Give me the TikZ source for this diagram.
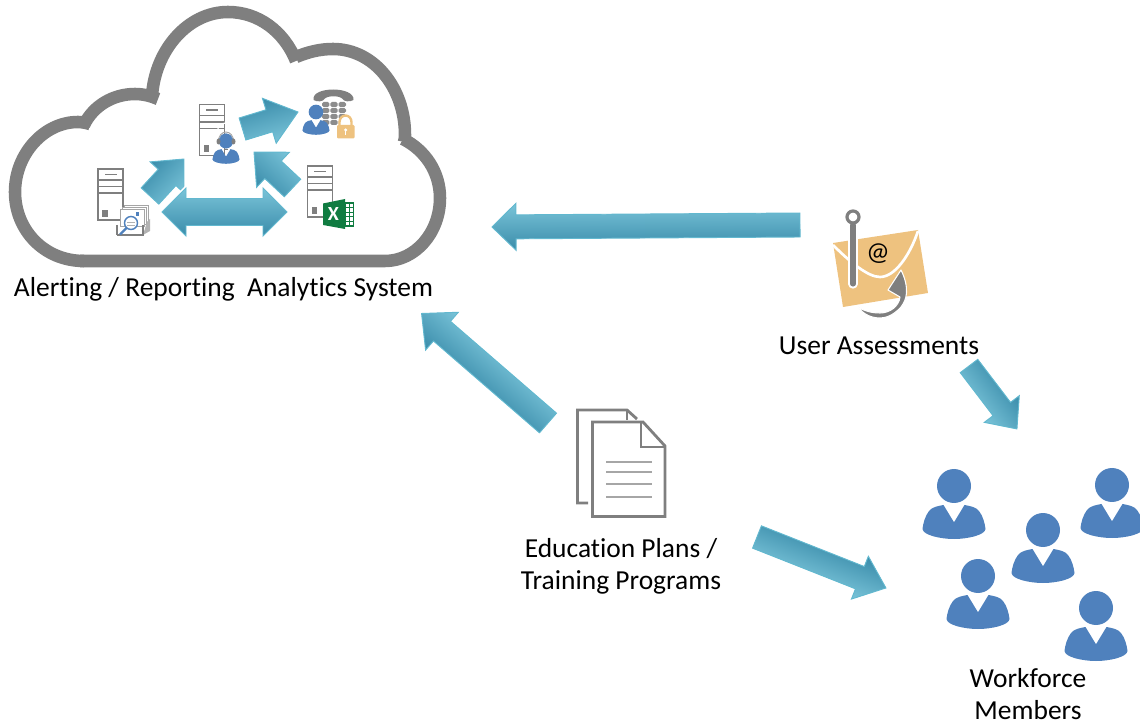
\documentclass[tikz,border=0pt]{standalone}
\usepackage{fontspec}
\setmainfont{Carlito}[Ligatures=NoCommon]
\usetikzlibrary{calc}
\definecolor{cgray}{HTML}{7F7F7F}
\definecolor{pblue}{HTML}{4F81BD}
\definecolor{envc}{HTML}{EEC27F}
\definecolor{xgreen}{HTML}{107C41}
\definecolor{arrowedge}{HTML}{62B8CF}
\definecolor{arrowlight}{HTML}{7AC4D9}
\definecolor{arrowmid}{HTML}{55AFCA}
\definecolor{arrowdark}{HTML}{3A8CAA}
\tikzset{
  cloudline/.style={draw=cgray,line width=9.4pt,line cap=butt},
  blockfill/.style={draw=arrowedge,line width=.7pt,line join=miter,top color=arrowdark,middle color=arrowmid,bottom color=arrowlight},
  srv/.style={draw=cgray,line width=1.1pt},
  lbl/.style={font=\fontsize{20.6}{24}\selectfont,align=center,text=black,inner sep=0pt},
  docline/.style={draw=cgray,line width=2.1pt},
  txline/.style={draw=black!35,line width=1.9pt}
}
\newcommand{\getvec}[2]{%
  \path let \p1=(#1),\p2=(#2),\n1={atan2(\y2-\y1,\x2-\x1)},\n2={veclen(\x2-\x1,\y2-\y1)} in
    \pgfextra{\pgfmathsetmacro{\tmpa}{\n1}\pgfmathsetmacro{\tmpb}{\n2}\global\let\bang\tmpa\global\let\blen\tmpb};}
% tail, tip, shaft half, head half, head length (px)
\newcommand{\blockarrow}[5]{%
  \getvec{#1}{#2}%
  \pgfmathsetmacro{\bs}{#3*.75}\pgfmathsetmacro{\bw}{#4*.75}\pgfmathsetmacro{\bh}{\blen-#5*.75}%
  \path[blockfill,transform canvas={shift={(#1)},rotate=\bang}]
    (0pt,-\bs pt)--(\bh pt,-\bs pt)--(\bh pt,-\bw pt)--(\blen pt,0pt)--(\bh pt,\bw pt)--(\bh pt,\bs pt)--(0pt,\bs pt)--cycle;}
\newcommand{\doublearrow}[5]{%
  \getvec{#1}{#2}%
  \pgfmathsetmacro{\bs}{#3*.75}\pgfmathsetmacro{\bw}{#4*.75}\pgfmathsetmacro{\bh}{\blen-#5*.75}\pgfmathsetmacro{\bt}{#5*.75}%
  \path[draw=white,line width=3pt,line join=miter,transform canvas={shift={(#1)},rotate=\bang}]
    (0pt,0pt)--(\bt pt,-\bw pt)--(\bt pt,-\bs pt)--(\bh pt,-\bs pt)--(\bh pt,-\bw pt)--(\blen pt,0pt)--(\bh pt,\bw pt)--(\bh pt,\bs pt)--(\bt pt,\bs pt)--(\bt pt,\bw pt)--cycle;
  \path[blockfill,transform canvas={shift={(#1)},rotate=\bang}]
    (0pt,0pt)--(\bt pt,-\bw pt)--(\bt pt,-\bs pt)--(\bh pt,-\bs pt)--(\bh pt,-\bw pt)--(\blen pt,0pt)--(\bh pt,\bw pt)--(\bh pt,\bs pt)--(\bt pt,\bs pt)--(\bt pt,\bw pt)--cycle;}
\newcommand{\bodyshape}{(-10.5,19)--(0,36.3)--(10.5,19) .. controls (16,20) and (22,21) .. (25,25) .. controls (29,30) and (31,38) .. (31.5,43) .. controls (31,49) and (14,53) .. (0,53) .. controls (-14,53) and (-31,49) .. (-31.5,43) .. controls (-31,38) and (-29,30) .. (-25,25) .. controls (-22,21) and (-16,20) .. (-10.5,19)--cycle}
\newcommand{\person}[3]{\begin{scope}[shift={(#1,#2)},scale=#3]
  \fill[pblue] (0,0) circle (17);
  \fill[pblue] \bodyshape;
\end{scope}}
\newcommand{\server}[2]{\begin{scope}[shift={(#1,#2)}]
  \draw[srv,fill=white] (0,0) rectangle (25,51);
  \draw[srv] (0,11)--(25,11) (0,17.5)--(25,17.5) (0,24)--(25,24);
  \fill[cgray] (6.5,4.6) rectangle (18.5,6.4);
  \fill[cgray] (4,41) rectangle (9.5,48);
\end{scope}}
\begin{document}
\begin{tikzpicture}[x=.75pt,y=-.75pt]
\useasboundingbox (0,0) rectangle (1140,727);
% cloud
\draw[cloudline] (84,261) .. controls (44,261) and (15,230) .. (15,192) .. controls (15,154) and (44,122) .. (78,122) .. controls (82,122) and (86,123) .. (90,124);
\draw[cloudline] (84,125) .. controls (93,106) and (113,94) .. (135,94) .. controls (143,94) and (151,96) .. (158,99);
\draw[cloudline] (152,96) .. controls (155,50) and (188,12) .. (228,12) .. controls (258,12) and (284,31) .. (296,61);
\draw[cloudline] (296,57) .. controls (308,52) and (320,49) .. (333,49) .. controls (374,49) and (405,88) .. (405,135) .. controls (405,137) and (405,139) .. (404,142);
\draw[cloudline] (403,139) .. controls (425,150) and (440,172) .. (440,198) .. controls (440,233) and (415,261) .. (385,261) -- (80,261);
% servers
\server{98}{169}
\server{199.5}{104.5}
\server{307.5}{166}
% named ends of the block arrows
\coordinate (a1t) at (150,196);   \coordinate (a1h) at (184,159);
\coordinate (a2t) at (242.5,129); \coordinate (a2h) at (298,112);
\coordinate (a3t) at (292.5,188); \coordinate (a3h) at (254,152);
\coordinate (dbr) at (287,212);   \coordinate (dbl) at (162,212);
\coordinate (b1t) at (800,225);   \coordinate (b1h) at (492,227);
\coordinate (b2t) at (548,423);   \coordinate (b2h) at (421,313);
\coordinate (b3t) at (969,366);   \coordinate (b3h) at (1017,429);
\coordinate (b4t) at (757,537);   \coordinate (b4h) at (886,588);
\blockarrow{a1t}{a1h}{12}{23}{25}
\blockarrow{a2t}{a2h}{11.5}{23.5}{30}
\blockarrow{a3t}{a3h}{12}{24}{26}
\doublearrow{dbr}{dbl}{13.5}{24}{24}
\blockarrow{b1t}{b1h}{12}{23.5}{24}
\blockarrow{b2t}{b2h}{13}{25}{27}
\blockarrow{b3t}{b3h}{11}{22}{25}
\blockarrow{b4t}{b4h}{12}{23}{28}
% archive / magnifier icon
\begin{scope}
  \draw[cgray!70,line width=.6pt,fill=white] (124,205.5) rectangle (148,222);
  \draw[cgray!70,line width=.6pt,fill=white] (122,207) rectangle (146,224);
  \draw[cgray!70,line width=.6pt,fill=white] (120,209) rectangle (144,226);
  \fill[pblue] (136,212) rectangle (139,216);
  \fill[cgray!60] (147,222) -- (150,219) -- (150,231) -- (143,235) -- cycle;
  \draw[cgray,line width=.9pt] (117,225) -- (117,235) (117,235) -- (143,235) -- (143,225);
  \draw[pblue,line width=1.1pt,fill=white] (131,223) circle (6.5);
  \draw[cgray!60,line width=.6pt] (127,222)--(135,222) (127,225)--(135,225);
  \draw[pblue,line width=1.6pt] (126.5,228) -- (120,234.5);
\end{scope}
% headset agent
\person{226}{141}{.43}
\draw[white,line width=.9pt] (226,131.5) ellipse (8.5 and 8.5);
\fill[pblue] (226,141) ellipse (6.7 and 7.5);
\draw[cgray!70,line width=.7pt] (218.5,141) arc (180:360:7.5 and 9);
\fill[cgray] (218.5,141.5) ellipse (2 and 3);
\fill[cgray] (233.5,141.5) ellipse (2 and 3);
\fill[cgray] (224,149) rectangle (228,150.5);
% phone
\fill[cgray] (313.5,100) .. controls (311,86) and (355,86) .. (353.5,100) .. controls (350,102) and (344,102) .. (342,98.5) .. controls (339,95.5) and (328,95.5) .. (325,98.5) .. controls (323,102) and (317,102) .. (313.5,100) -- cycle;
\foreach \gx in {322,330.3,338.6}{\foreach \gy in {102,108,114,120}{
  \fill[cgray!90,rounded corners=1.2pt] (\gx,\gy) rectangle ++(7.4,5);}}
\person{316}{112}{.43}
% padlock
\draw[envc,line width=1.8pt,fill=white] (339.5,126) -- (339.5,122) arc (180:360:6 and 6.5) -- (351.5,126);
\fill[envc,rounded corners=.8pt] (337,125) rectangle (354.5,138.5);
\fill[white] (345.7,130) circle (1.7);
\fill[white] (345,130) rectangle (346.4,135);
% excel
\fill[white] (345,203) rectangle (353.5,226);
\draw[xgreen,line width=.8pt] (345,203) rectangle (353.5,226);
\draw[xgreen,line width=.5pt] (349,203)--(349,226) (345,207.6)--(353.5,207.6) (345,212.2)--(353.5,212.2) (345,216.8)--(353.5,216.8) (345,221.4)--(353.5,221.4);
\fill[xgreen] (323,203.5) -- (345,199) -- (345,229) -- (323,225) -- cycle;
\node[font=\fontsize{15}{15}\bfseries\selectfont,text=white,inner sep=0pt] (xl) at (333.5,214) {X};
% envelope
\fill[envc] (833,243) -- (918,230) -- (928,293) -- (843,307) -- cycle;
\draw[white,line width=2pt] (833,245) .. controls (850,262) and (868,277) .. (880,277) .. controls (895,277) and (910,255) .. (918,231);
\node[inner sep=0pt,font=\fontsize{19.6}{24}\selectfont] (at) at (878,254) {@};
% hook
\draw[white,line width=7pt,line cap=round] (853,237)--(853,284);
\draw[cgray,line width=3.8pt,line cap=round] (853,225)--(853,284);
\draw[cgray,line width=2.4pt,fill=white] (853,217) circle (6);
\path[fill=cgray,draw=white,line width=.8pt,line join=round] (858,307) .. controls (866,312) and (874,313) .. (880,313) .. controls (890,313) and (899,306) .. (900,297) -- (888,290) -- (901,270) .. controls (905,278) and (907,286) .. (906.5,293) .. controls (906,299) and (904,303) .. (901,307) .. controls (893,316) and (885,318) .. (880,318) .. controls (872,318) and (864,315) .. (858,307) -- cycle;
% documents
\draw[docline] (588,503) -- (577.5,503) -- (577.5,410) -- (627,410) -- (637,419);
\draw[docline] (627,410) -- (627,420);
\draw[docline,line join=miter] (592.5,422) -- (643,422) -- (665,446) -- (665,516.5) -- (592.5,516.5) -- cycle;
\draw[docline] (641,423) -- (641,447) -- (665,447);
\draw[txline] (606,462)--(652,462) (606,472)--(652,472) (606,484)--(652,484) (606,497)--(652,497);
% workforce
\person{954}{486}{1}
\person{1112}{485}{1}
\person{1043}{530}{1}
\person{978}{576}{1}
\person{1096}{608}{1}
% labels
\node[lbl] (sys) at (223.5,289.5) {Alerting / Reporting\ \ Analytics System};
\node[lbl] (ua) at (879,346) {User Assessments};
\node[lbl] (edu) at (621,566.5) {Education Plans /\\Training Programs};
\node[lbl] (wf) at (1028,694) {Workforce\\Members};
\end{tikzpicture}
\end{document}
